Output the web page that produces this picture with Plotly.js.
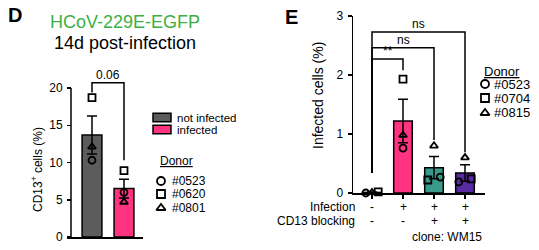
<!DOCTYPE html>
<html><head><meta charset="utf-8">
<script src="https://cdn.plot.ly/plotly-3.0.1.min.js"></script>
<style>html,body{margin:0;padding:0;background:#fff}</style>
</head><body><div id="chart" style="width:539px;height:250px"></div>
<script>
// ---------- Panel D data ----------
const dGroups = ['not infected', 'infected'];
const dBarColors = ['#5c5c5c', '#ff3380'];
const dMeans = [13.7, 6.5];
const dSem = [2.55, 1.25];
const dDonorNames = ['#0523', '#0620', '#0801'];
const dDonor0523 = [10.3, 6.0];
const dDonor0620 = [18.7, 8.9];
const dDonor0801 = [12.1, 4.7];
const dTicks = [0, 5, 10, 15, 20];
const dCompLabels = ['0.06'];
const dCompPairs = [[0, 1]];
const dCompTop = [20.7];
const dCompLegs = [[19.4, 10.3]];

// ---------- Panel E data ----------
const eInfection = ['-', '+', '+', '+'];
const eBlocking = ['-', '-', '+', '+'];
const eBarColors = ['#ffffff', '#ff3380', '#3a9a8a', '#5a2aa0'];
const eMeans = [0.01, 1.22, 0.43, 0.34];
const eSem = [0.005, 0.37, 0.19, 0.14];
const eDonorNames = ['#0523', '#0704', '#0815'];
const eDonor0523 = [0.0, 0.76, 0.27, 0.19];
const eDonor0704 = [0.02, 1.93, 0.22, 0.24];
const eDonor0815 = [0.01, 0.98, 0.80, 0.60];
const eTicks = [0, 1, 2, 3];
const eCompLabels = ['**', 'ns', 'ns'];
const eCompPairs = [[0, 1], [0, 2], [0, 3]];
const eCompTop = [2.27, 2.46, 2.73];
const eCompLegs = [[0.34, 2.08], [0.34, 0.90], [0.34, 0.69]];

const symbols = ['circle-open', 'square-open', 'triangle-up-open'];
const FONT = '"Liberation Sans", Arial, sans-serif';

// pixel -> paper helpers (layout only)
const W = 539, H = 250;
const X = p => p / W;
const Y = p => 1 - p / H;

// dodge overlapping points horizontally (ascending y from left to right)
function dodge(series, thr, spread) {
  const nG = series[0].length;
  const offs = series.map(() => new Array(nG).fill(0));
  for (let g = 0; g < nG; g++) {
    const pts = series.map((s, d) => ({ d, y: s[g] })).sort((a, b) => a.y - b.y);
    let cur = [pts[0]];
    const flush = () => {
      const n = cur.length;
      if (n > 1) cur.forEach((p, i) => { offs[p.d][g] = -spread + 2 * spread * i / (n - 1); });
    };
    for (let i = 1; i < pts.length; i++) {
      if (pts[i].y - cur[cur.length - 1].y < thr) cur.push(pts[i]);
      else { flush(); cur = [pts[i]]; }
    }
    flush();
  }
  return offs;
}

const traces = [];
const dIdx = dGroups.map((_, i) => i);
const eIdx = eInfection.map((_, i) => i);

// Panel D bars
traces.push({
  type: 'bar', x: dIdx, y: dMeans, width: 0.62, xaxis: 'x', yaxis: 'y',
  marker: { color: dBarColors, line: { color: '#000', width: 1.5 } },
  error_y: { type: 'data', array: dSem, visible: true, color: '#000', thickness: 1.5, width: 5 },
  hoverinfo: 'skip'
});
const dSeries = [dDonor0523, dDonor0620, dDonor0801];
const dOffs = dodge(dSeries, 1.0, 0.2);
dSeries.forEach((s, k) => traces.push({
  type: 'scatter', mode: 'markers', xaxis: 'x', yaxis: 'y', cliponaxis: false,
  x: dIdx.map((g) => g + dOffs[k][g]), y: s,
  marker: { symbol: symbols[k], size: 7, color: '#000', line: { color: '#000', width: 1.8 } },
  hoverinfo: 'skip'
}));

// Panel E bars
traces.push({
  type: 'bar', x: eIdx, y: eMeans, width: 0.6, xaxis: 'x2', yaxis: 'y2',
  marker: { color: eBarColors, line: { color: '#000', width: 1.5 } },
  error_y: { type: 'data', array: eSem, visible: true, color: '#000', thickness: 1.5, width: 5 },
  hoverinfo: 'skip'
});
const eSeries = [eDonor0523, eDonor0704, eDonor0815];
const eOffs = dodge(eSeries, 0.13, 0.2);
eSeries.forEach((s, k) => traces.push({
  type: 'scatter', mode: 'markers', xaxis: 'x2', yaxis: 'y2', cliponaxis: false,
  x: eIdx.map((g) => g + eOffs[k][g]), y: s,
  marker: { symbol: symbols[k], size: 7, color: '#000', line: { color: '#000', width: 1.8 } },
  hoverinfo: 'skip'
}));

// Legend glyphs on an invisible full-page overlay axis (pixel units)
const dLegY = [181, 194, 208];
const eLegY = [84, 98, 113];
symbols.forEach((sym, k) => {
  traces.push({
    type: 'scatter', mode: 'markers', xaxis: 'x3', yaxis: 'y3', cliponaxis: false,
    x: [161, 485], y: [dLegY[k], eLegY[k]],
    marker: { symbol: sym, size: 8, color: '#000', line: { color: '#000', width: 1.8 } },
    hoverinfo: 'skip'
  });
});

const shapes = [];
const annotations = [];

// D y-axis line (0..20 only)
shapes.push({ type: 'line', xref: 'paper', yref: 'y', x0: X(71), x1: X(71), y0: 0, y1: dTicks[dTicks.length - 1], line: { color: '#000', width: 1.5 } });

// Comparison brackets
function bracket(pairs, tops, legs, labels, xr, yr, fs) {
  pairs.forEach((p, i) => {
    shapes.push({
      type: 'path', xref: xr, yref: yr,
      path: `M ${p[0]},${legs[i][0]} L ${p[0]},${tops[i]} L ${p[1]},${tops[i]} L ${p[1]},${legs[i][1]}`,
      line: { color: '#000', width: 1.5 }
    });
    annotations.push({
      xref: xr, yref: yr, x: (p[0] + p[1]) / 2, y: tops[i], yanchor: 'bottom', yshift: -1,
      text: labels[i], showarrow: false, font: { size: fs, color: '#000', family: FONT }
    });
  });
}
bracket(dCompPairs, dCompTop, dCompLegs, dCompLabels, 'x', 'y', 12);
bracket(eCompPairs, eCompTop, eCompLegs, eCompLabels, 'x2', 'y2', 12);

function txt(x, y, text, opts = {}) {
  annotations.push(Object.assign({
    xref: 'paper', yref: 'paper', x: X(x), y: Y(y), text, showarrow: false,
    xanchor: 'left', yanchor: 'middle', font: { size: 12, color: '#000', family: FONT }
  }, opts));
}

// Panel letters & titles
txt(6, 15, '<b>D</b>', { font: { size: 20, color: '#000', family: FONT } });
txt(283, 17, '<b>E</b>', { font: { size: 20, color: '#000', family: FONT } });
txt(125, 22, 'HCoV-229E-EGFP', { xanchor: 'center', font: { size: 18, color: '#3cb043', family: FONT } });
txt(125, 43, '14d post-infection', { xanchor: 'center', font: { size: 18, color: '#000', family: FONT } });

// Axis titles
txt(37, 170, 'CD13<sup>+</sup> cells (%)', { xanchor: 'center', textangle: -90 });
txt(318, 96, 'Infected cells (%)', { xanchor: 'center', textangle: -90, font: { size: 14, color: '#000', family: FONT } });

// D legend (groups)
dGroups.forEach((g, i) => {
  const yc = 117.5 + i * 12;
  shapes.push({ type: 'rect', xref: 'paper', yref: 'paper', x0: X(153), x1: X(171), y0: Y(yc + 4.3), y1: Y(yc - 4.3),
    fillcolor: dBarColors[i], line: { color: '#000', width: 1.5 } });
  txt(175, yc, g, { font: { size: 11.5, color: '#000', family: FONT } });
});
txt(158, 161, '<u>Donor</u>');
dDonorNames.forEach((n, k) => txt(170, dLegY[k], n));

// E legend
txt(482, 71, '<u>Donor</u>', { font: { size: 13, color: '#000', family: FONT } });
eDonorNames.forEach((n, k) => txt(492, eLegY[k], n, { font: { size: 13, color: '#000', family: FONT } }));

// E condition rows
txt(357, 207, 'Infection', { xanchor: 'right' });
txt(357, 221, 'CD13 blocking', { xanchor: 'right' });
eIdx.forEach(g => {
  annotations.push({ xref: 'x2', yref: 'paper', x: g, y: Y(207), text: eInfection[g], showarrow: false,
    xanchor: 'center', yanchor: 'middle', font: { size: 12, color: '#000', family: FONT } });
  annotations.push({ xref: 'x2', yref: 'paper', x: g, y: Y(221), text: eBlocking[g], showarrow: false,
    xanchor: 'center', yanchor: 'middle', font: { size: 12, color: '#000', family: FONT } });
});
txt(447, 237, 'clone: WM15', { xanchor: 'center' });

const axCommon = { showgrid: false, zeroline: false, fixedrange: true, color: '#000',
  tickfont: { size: 12, color: '#000', family: FONT }, linecolor: '#000', tickcolor: '#000' };

const layout = {
  width: W, height: H, margin: { l: 0, r: 0, t: 0, b: 0 },
  paper_bgcolor: '#fff', plot_bgcolor: 'rgba(0,0,0,0)', showlegend: false,
  font: { family: FONT, color: '#000' },
  bargap: 0,
  xaxis: Object.assign({}, axCommon, { domain: [X(67), X(143)], range: [-0.781, 1.594], anchor: 'y',
    showline: true, linewidth: 1.5, ticks: '', showticklabels: false }),
  yaxis: Object.assign({}, axCommon, { domain: [Y(237), Y(73.1)], range: [0, 22], anchor: 'free', position: X(71),
    showline: false, ticks: 'outside', ticklen: 4, tickwidth: 1.5, tickvals: dTicks, ticklabelstandoff: 2 }),
  xaxis2: Object.assign({}, axCommon, { domain: [X(353), X(485)], range: [-0.613, 3.645], anchor: 'y2',
    showline: true, linewidth: 1.5, ticks: 'outside', ticklen: 4, tickwidth: 1.5, tickvals: eIdx, showticklabels: false }),
  yaxis2: Object.assign({}, axCommon, { domain: [Y(193), Y(16)], range: [0, 3], anchor: 'x2',
    showline: true, linewidth: 1.5, ticks: 'outside', ticklen: 4, tickwidth: 1.5, tickvals: eTicks, ticklabelstandoff: 2 }),
  xaxis3: { domain: [0, 1], range: [0, W], visible: false, fixedrange: true, anchor: 'y3' },
  yaxis3: { domain: [0, 1], range: [H, 0], visible: false, fixedrange: true, anchor: 'x3' },
  shapes, annotations
};

Plotly.newPlot('chart', traces, layout, { staticPlot: true, displayModeBar: false });
</script>
</body></html>
